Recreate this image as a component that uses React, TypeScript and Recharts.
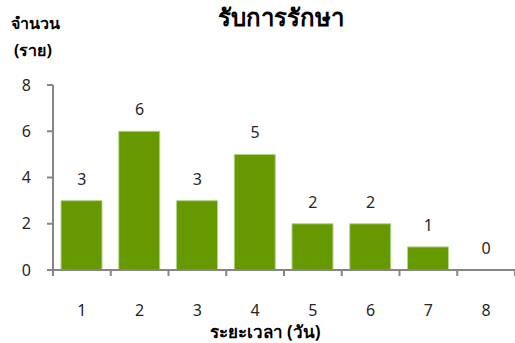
import React from 'react';
import { ComposedChart, Bar, Line, XAxis, YAxis, LabelList } from 'recharts';

const days = ['1', '2', '3', '4', '5', '6', '7', '8'];
const patients = [3, 6, 3, 5, 2, 2, 1, 0];
const yTicks = [0, 2, 4, 6, 8];

const title = 'รับการรักษา';
const yLabel1 = 'จำนวน';
const yLabel2 = '(ราย)';
const xLabel = 'ระยะเวลา (วัน)';

const data = days.map((d, i) => ({ day: d, value: patients[i] }));

const FONT = "Tahoma, 'Noto Sans', 'DejaVu Sans', sans-serif";
const AXIS = '#868686';
const TEXT = '#262626';
const TICK_MARGIN = 35;

const CatTick = (props: any) => {
  const { x, y, payload, index, visibleTicksCount } = props;
  const off = payload && payload.offset ? payload.offset : 0;
  const axisY = y - TICK_MARGIN;
  const isLast = index === (visibleTicksCount ?? days.length) - 1;
  return (
    <g>
      <line x1={x - off} x2={x - off} y1={axisY} y2={axisY + 6} stroke={AXIS} strokeWidth={2} />
      {isLast && <line x1={x + off} x2={x + off} y1={axisY} y2={axisY + 6} stroke={AXIS} strokeWidth={2} />}
      <text x={x} y={y} dy="0.71em" textAnchor="middle" fill={TEXT} fontSize={16} fontFamily={FONT}>
        {payload.value}
      </text>
    </g>
  );
};

export default function App() {
  return (
    <div style={{ position: 'absolute', left: 0, top: 0, width: 515, height: 343, fontFamily: FONT, background: '#fff' }}>
      <div style={{ position: 'absolute', left: 0, width: 562, top: 1, textAlign: 'center', fontSize: 24, fontWeight: 'bold', color: '#000', lineHeight: '32px' }}>
        {title}
      </div>
      <div style={{ position: 'absolute', left: 11, top: 11, fontSize: 16, fontWeight: 'bold', color: '#000', lineHeight: '24px' }}>
        {yLabel1}
      </div>
      <div style={{ position: 'absolute', left: 14, top: 38, fontSize: 16, fontWeight: 'bold', color: '#000', lineHeight: '24px' }}>
        {yLabel2}
      </div>
      <ComposedChart
        width={515}
        height={343}
        data={data}
        margin={{ top: 85, right: 0, bottom: 0, left: 0 }}
        style={{ fontFamily: FONT }}
      >
        <XAxis
          dataKey="day"
          height={73}
          tickLine={false}
          tickSize={0}
          axisLine={{ stroke: AXIS, strokeWidth: 2 }}
          tickMargin={TICK_MARGIN}
          interval={0}
          tick={<CatTick />}
          label={{ value: xLabel, position: 'insideBottom', offset: 5, dx: -19, fill: '#000', fontSize: 17, fontWeight: 'bold' }}
        />
        <YAxis
          width={53}
          domain={[0, 8]}
          ticks={yTicks}
          interval={0}
          tickSize={6}
          tickMargin={16}
          axisLine={{ stroke: AXIS, strokeWidth: 2 }}
          tickLine={{ stroke: AXIS, strokeWidth: 2 }}
          tick={{ fill: TEXT, fontSize: 16 }}
        />
        <Bar dataKey="value" barSize={41} fill="#669900" stroke="#b5d38a" strokeWidth={1} isAnimationActive={false} />
        <Line dataKey="value" stroke="none" dot={false} activeDot={false} isAnimationActive={false}>
          <LabelList dataKey="value" position="top" offset={16} fill={TEXT} fontSize={16} />
        </Line>
      </ComposedChart>
    </div>
  );
}
